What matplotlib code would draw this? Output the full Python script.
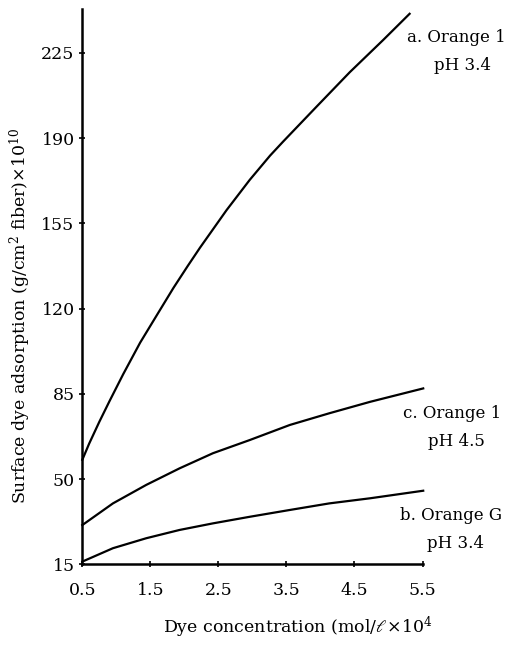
import matplotlib
matplotlib.use('Agg')
import matplotlib.pyplot as plt

# Datos
x_a = [0.5, 0.6, 0.75, 0.9, 1.1, 1.35, 1.6, 1.84, 2.05, 2.23, 2.62, 2.96, 3.26, 3.45, 3.94, 4.43, 4.92, 5.31]
y_a = [57.9, 64.5, 73.5, 82.0, 93.0, 106.0, 117.5, 128.5, 137.5, 145.0, 160.4, 172.8, 182.8, 188.5, 202.8, 217.0, 230.2, 241.0]

x_c = [0.5, 0.95, 1.44, 1.93, 2.42, 2.96, 3.55, 4.13, 4.73, 5.51]
y_c = [31.1, 40.0, 47.6, 54.4, 60.6, 66.0, 72.2, 77.0, 81.7, 87.2]

x_b = [0.5, 0.95, 1.44, 1.93, 2.42, 2.96, 3.55, 4.13, 4.73, 5.51]
y_b = [16.1, 21.6, 25.7, 29.1, 31.8, 34.5, 37.3, 40.0, 42.1, 45.2]

xticks = [0.5, 1.5, 2.5, 3.5, 4.5, 5.5]
yticks = [15, 50, 85, 120, 155, 190, 225]

plt.rcParams['font.family'] = 'DejaVu Serif'
plt.rcParams['mathtext.fontset'] = 'dejavuserif'

fig = plt.figure(figsize=(5.21, 6.51), dpi=100)
ax = fig.add_axes([0.158, 0.1332, 0.653, 0.8531])

for xs, ys in [(x_a, y_a), (x_c, y_c), (x_b, y_b)]:
    ax.plot(xs, ys, color='black', linewidth=1.6, clip_on=False)

ax.set_xlim(0.5, 5.5)
ax.set_ylim(15, 243)
ax.set_xticks(xticks)
ax.set_xticklabels(['0.5', '1.5', '2.5', '3.5', '4.5', '5.5'])
ax.set_yticks(yticks)
ax.tick_params(direction='inout', length=5, width=1.2, labelsize=12.5, pad=3)
ax.tick_params(axis='x', pad=10)

ax.spines['top'].set_visible(False)
ax.spines['right'].set_visible(False)
ax.spines['left'].set_linewidth(1.8)
ax.spines['bottom'].set_linewidth(1.8)

# Etiquetas de las curvas
fs = 12
fig.text(407 / 521, 1 - 37 / 651, 'a. Orange 1', fontsize=fs, ha='left', va='center')
fig.text(434 / 521, 1 - 65 / 651, 'pH 3.4', fontsize=fs, ha='left', va='center')
fig.text(403 / 521, 1 - 413 / 651, 'c. Orange 1', fontsize=fs, ha='left', va='center')
fig.text(428 / 521, 1 - 442 / 651, 'pH 4.5', fontsize=fs, ha='left', va='center')
fig.text(400 / 521, 1 - 515 / 651, 'b. Orange G', fontsize=fs, ha='left', va='center')
fig.text(427 / 521, 1 - 543 / 651, 'pH 3.4', fontsize=fs, ha='left', va='center')

# Titulos de los ejes
fig.text(298 / 521, 1 - 627 / 651, r'Dye concentration (mol/$\ell\!\times\!$10$^4$',
         fontsize=12.5, ha='center', va='center')
fig.text(20 / 521, 1 - 316 / 651, r'Surface dye adsorption (g/cm$^2$ fiber)$\times$10$^{10}$',
         fontsize=12.5, ha='center', va='center', rotation=90)

fig.savefig('out.png', dpi=100)
